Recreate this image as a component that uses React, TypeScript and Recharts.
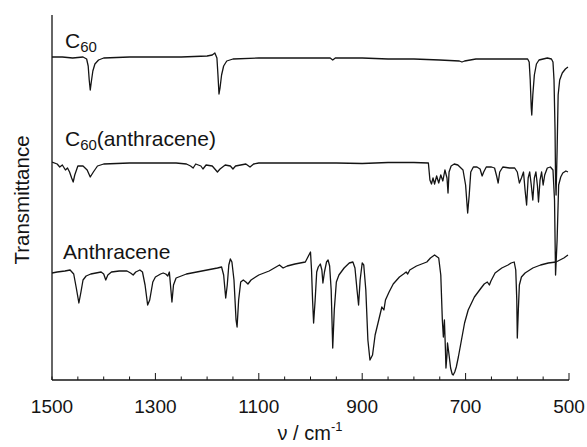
import React from 'react';
import { LineChart, Line, XAxis, YAxis } from 'recharts';

// Wavenumbers (cm^-1) and transmittance (arbitrary units, higher = more transmission)
const c60Nu = [1500,1480,1460,1440,1433,1430,1428,1426,1424,1421,1417,1410,1400,1350,1300,1250,1200,1190,1185,1181,1179,1177,1175,1172,1168,1162,1150,1100,1050,1000,962,957,952,900,850,800,750,712,707,702,680,620,590,580,577,575,573,572,570,567,563,558,550,542,534,531,529,527,526,525,523,521,518,513,507,502];
const c60T = [323,323,322,323,321,314,300,290,298,309,316,320,322,323,323,323,324,325,327,322,305,286,292,305,314,319,321,322,322,322,322,320,322,322,321,321,320,319,318,319,321,321,321,321,318,300,272,265,285,305,316,320,321,322,321,318,300,250,200,185,230,285,300,307,311,313];

const c60AnthNu = [1500,1490,1485,1480,1474,1470,1466,1462,1459,1456,1450,1440,1432,1426,1420,1412,1400,1350,1300,1260,1240,1232,1227,1222,1212,1208,1202,1190,1180,1175,1165,1155,1150,1145,1125,1117,1110,1100,1050,1000,950,900,850,800,772,769,766,763,760,756,752,748,744,740,736,734,732,728,722,715,705,700,696,693,690,685,678,672,668,665,660,650,644,640,637,634,628,615,605,600,596,592,588,585,582,579,576,573,570,567,564,561,559,556,553,550,547,542,536,531,528,526,523,520,516,512,506,502];
const c60AnthT = [218,216,213,215,210,212,208,202,198,205,214,214,210,203,208,214,216,217,217,217,216,214,212,216,214,211,215,214,208,211,215,214,211,214,216,213,216,217,217,217,217,216.5,217.5,217.5,217,200,196,202,196,204,197,205,199,210,202,187,208,214,216,215,210,195,167,185,208,213,213,211,204,208,213,213,212,204,197,208,213,212,212,208,197,202,208,190,175,202,208,195,180,202,208,194,178,200,208,195,205,212,213,210,180,105,140,195,203,207,209,208];

const anthNu = [1500,1490,1475,1465,1458,1453,1448,1444,1440,1434,1425,1415,1405,1400,1396,1392,1385,1370,1355,1348,1343,1338,1330,1325,1320,1315,1311,1305,1300,1290,1285,1280,1276,1273,1270,1268,1265,1260,1250,1240,1220,1200,1180,1172,1168,1164,1161,1158,1155,1152,1148,1144,1142,1139,1135,1130,1125,1121,1115,1100,1080,1060,1053,1045,1030,1010,1006,1002,1000,998,996,994,991,988,985,981,978,976,973,969,966,963,960,957,954,950,945,935,925,918,914,910,907,904,900,897,893,889,885,880,875,868,862,858,855,848,840,828,820,815,812,808,795,780,775,768,760,752,748,745,743,741,739,738,736,735,732,729,726,724,721,718,714,708,702,695,683,670,664,658,654,651,643,630,618,612,606,603,601,600,598,596,592,585,570,555,540,525,510,502];
const anthT = [107,108,109,110,106,92,77,88,100,104,106,107,108,106,100,105,108,109,109,107,105,108,110,108,95,75,80,98,103,106,107,106,104,108,90,78,95,102,104,106,108,110,112,113,105,82,95,115,121,118,100,60,53,80,98,100,98,96,100,105,109,115,112,114,116,118,122,126,128,110,80,57,80,108,113,116,110,97,108,118,120,114,90,32,70,98,105,112,117,118,112,90,75,100,117,115,90,40,20,25,45,60,73,70,80,88,96,103,106,108,106,110,114,117,118,122,125,122,105,60,43,60,30,12,25,37,25,12,6,5,8,13,23,40,57,70,83,92,96,98,95,99,107,112,115,117,118,110,80,42,70,95,103,107,112,115,117,118,122,125];

const xTicks = [1500,1450,1400,1350,1300,1250,1200,1150,1100,1050,1000,950,900,850,800,750,700,650,600,550,500];
const xTickLabels = [1500,1300,1100,900,700,500];

const build = (nu: number[], t: number[]) => nu.map((n, i) => ({ nu: n, t: t[i] }));
const c60Data = build(c60Nu, c60T);
const c60AnthData = build(c60AnthNu, c60AnthT);
const anthData = build(anthNu, anthT);

const FONT = '"Liberation Sans", Arial, Helvetica, sans-serif';
const INK = '#141414';

const XTick = (props: any) => {
  const { x, y, payload } = props;
  const v = payload.value;
  const labelled = xTickLabels.includes(v);
  const len = labelled && v !== 1500 ? 7 : 3.5;
  return (
    <g>
      <line x1={x} x2={x} y1={y} y2={y - len} stroke={INK} strokeWidth={1} />
      {labelled && (
        <text x={x} y={y + 33} textAnchor="middle" fontSize={19} fill={INK} fontFamily={FONT}>
          {v}
        </text>
      )}
    </g>
  );
};

export default function App() {
  return (
    <div style={{ position: 'absolute', left: 0, top: 0, width: 587, height: 447, background: '#fff' }}>
      <LineChart width={587} height={447} margin={{ top: 15, right: 18, bottom: 0, left: 0 }}>
        <XAxis
          dataKey="nu"
          type="number"
          domain={[500, 1500]}
          reversed
          allowDataOverflow
          ticks={xTicks}
          interval={0}
          tickSize={0}
          tickMargin={0}
          tickLine={false}
          tick={(p: any) => <XTick {...p} />}
          axisLine={{ stroke: INK, strokeWidth: 1.3 }}
          height={67}
        />
        <YAxis
          type="number"
          domain={[0, 365]}
          allowDataOverflow
          tick={false}
          tickLine={false}
          axisLine={{ stroke: INK, strokeWidth: 1.3 }}
          width={52}
        />
        <Line data={c60Data} dataKey="t" type="linear" stroke={INK} strokeWidth={1.3} dot={false} activeDot={false} isAnimationActive={false} strokeLinejoin="round" />
        <Line data={c60AnthData} dataKey="t" type="linear" stroke={INK} strokeWidth={1.3} dot={false} activeDot={false} isAnimationActive={false} strokeLinejoin="round" />
        <Line data={anthData} dataKey="t" type="linear" stroke={INK} strokeWidth={1.3} dot={false} activeDot={false} isAnimationActive={false} strokeLinejoin="round" />
        <text x={65} y={48} fontSize={21} fill={INK} fontFamily={FONT}>
          C<tspan fontSize={15} dy={4}>60</tspan>
        </text>
        <text x={65} y={146} fontSize={21} fill={INK} fontFamily={FONT}>
          C<tspan fontSize={15} dy={4}>60</tspan>
          <tspan dy={-4}>(anthracene)</tspan>
        </text>
        <text x={63} y={259} fontSize={21} fill={INK} fontFamily={FONT}>
          Anthracene
        </text>
        <text
          x={21}
          y={200}
          fontSize={20.5}
          fill={INK}
          fontFamily={FONT}
          textAnchor="middle"
          dominantBaseline="central"
          transform="rotate(-90, 21, 200)"
        >
          Transmittance
        </text>
        <text x={310} y={440} fontSize={20} fill={INK} fontFamily={FONT} textAnchor="middle">
          ν / cm<tspan fontSize={13} dy={-9}>-1</tspan>
        </text>
      </LineChart>
    </div>
  );
}
